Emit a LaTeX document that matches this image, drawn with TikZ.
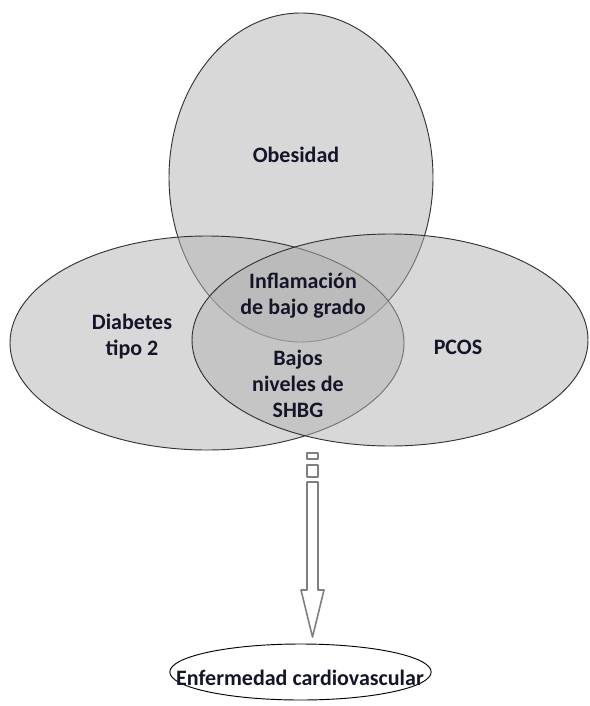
\documentclass[tikz,border=0pt]{standalone}
\usepackage{fontspec}
\setmainfont{Carlito}
\usetikzlibrary{shapes.geometric}
\definecolor{texto}{HTML}{15152A}
\begin{document}
\begin{tikzpicture}[x=0.75pt,y=-0.75pt]
        \tikzstyle{conjunto}=[ellipse,draw=black!80,line width=0.7pt,fill=black!30,fill opacity=0.5,inner sep=0pt]
        \tikzstyle{etiqueta}=[align=center,text=texto,font=\bfseries\fontsize{16.5}{19.5}\selectfont,inner sep=0pt]
        \tikzstyle{flecha}=[draw=black!50,line width=1.2pt,line join=round]
        \useasboundingbox (0,0) rectangle (589,706);
        % los tres conjuntos
        \node[conjunto,minimum width=198pt,minimum height=246.75pt] (obesidad) at (301,177.5) {};
        \node[conjunto,minimum width=295.5pt,minimum height=160.5pt] (diabetes) at (207,343) {};
        \node[conjunto,minimum width=297pt,minimum height=159pt] (pcos) at (390,340) {};
        \node[etiqueta] (tObesidad) at (296,155) {Obesidad};
        \node[etiqueta] (tDiabetes) at (132,337) {Diabetes\\tipo 2};
        \node[etiqueta] (tPcos) at (458,347) {PCOS};
        \node[etiqueta] (tInflamacion) at (303,296) {Inflamación\\de bajo grado};
        \node[etiqueta] (tShbg) at (298,384) {Bajos\\niveles de\\SHBG};
        % flecha hacia la consecuencia
        \coordinate (flecha) at (312.5,482);
        \draw[flecha] (307,453) rectangle (318,459);
        \draw[flecha] (307,465) rectangle (318,477);
        \draw[flecha] (flecha) ++(-5.5,0) -- ++(0,108) -- ++(-6,0) -- ++(11.5,47) -- ++(11.5,-47) -- ++(-6,0) -- ++(0,-108) -- cycle;
        \node[ellipse,draw=black,line width=0.7pt,minimum width=196pt,minimum height=42pt,inner sep=0pt] (ecv) at (300.5,672) {};
        \node[etiqueta] (tEcv) at (300,678) {Enfermedad cardiovascular};
\end{tikzpicture}
\end{document}
